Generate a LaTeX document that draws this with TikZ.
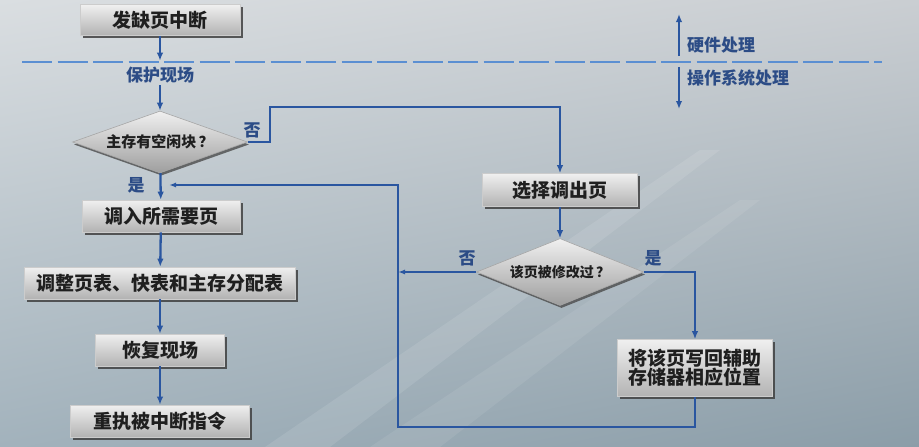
\documentclass[tikz,border=0pt]{standalone}
\usepackage{fontspec}
\setmainfont{Noto Sans CJK SC}
\usetikzlibrary{arrows.meta,shapes.geometric,shadows,shadings}

\definecolor{flowblue}{HTML}{2A56A0}
\definecolor{tagblue}{HTML}{2C4C86}
\definecolor{dashblue}{HTML}{5B8FD2}
\definecolor{bgUL}{HTML}{DADEE1}
\definecolor{bgUR}{HTML}{CACED2}
\definecolor{bgLL}{HTML}{A2B2BC}
\definecolor{bgLR}{HTML}{8B9DA8}

\tikzset{
  stepbox/.style={rectangle,draw=black!20,line width=0.6pt,top color=black!6,bottom color=black!30,
    minimum height=32pt,inner sep=3pt,text=black!88,font=\bfseries\fontsize{19}{19}\selectfont,
    drop shadow={shadow xshift=2.5pt,shadow yshift=-2.5pt,opacity=0.85,fill=black!75}},
  askbox/.style={diamond,draw=black!35,line width=0.6pt,top color=black!6,bottom color=black!38,
    inner sep=0pt,text=black!88,
    drop shadow={shadow xshift=1.5pt,shadow yshift=-2.5pt,opacity=0.8,fill=black!70}},
  flow/.style={draw=flowblue,line width=2.3pt,-{Latex[length=8pt,width=6.5pt]}},
  tag/.style={text=tagblue,inner sep=2pt,font=\bfseries\fontsize{17}{17}\selectfont},
  dashline/.style={draw=dashblue,line width=2.4pt,dash pattern=on 30pt off 5.5pt},
}

\begin{document}
\begin{tikzpicture}[x=1pt,y=-1pt]

    % background
    \useasboundingbox (0,0) rectangle (919,447);
    \shade[upper left=bgUL,upper right=bgUR,lower left=bgLL,lower right=bgLR] (0,0) rectangle (919,447);
    \fill[white,opacity=0.1] (265,447) -- (330,447) -- (720,150) -- (700,150) -- cycle;
    \fill[white,opacity=0.08] (370,447) -- (440,447) -- (760,200) -- (740,200) -- cycle;

    % hardware / operating system border
    \coordinate (dashL) at (22,62);
    \coordinate (dashR) at (882,62);
    \draw[dashline] (dashL) -- (dashR);

    % hardware part
    \coordinate (hwlow) at (679,56);
    \coordinate (hwhigh) at (679,14);
    \draw[flow,line width=1.8pt] (hwlow) -- (hwhigh);
    \node[tag,anchor=west] (hw) at (685,45) {硬件处理};

    % operating system part
    \coordinate (oshigh) at (679,67);
    \coordinate (oslow) at (679,109);
    \draw[flow,line width=1.8pt] (oshigh) -- (oslow);
    \node[tag,anchor=west] (os) at (685,78) {操作系统处理};

    %%%%%%%%%%%%%%%%%%%%%%%%%%%%%%%%%%%%%%%%%%%%%%%%%%%%%%

    % page fault interrupt
    \node[stepbox,minimum width=160pt,minimum height=31pt] (fault) at (160,20) {发缺页中断};

    % save context
    \node[tag] (save) at (160,75) {保护现场};
    \draw[flow,shorten >=4pt] (fault) -- (save);

    % free frame in main memory?
    \node[askbox,aspect=2.8,minimum width=175pt,minimum height=62pt,font=\bfseries\fontsize{15}{15}\selectfont] (free) at (160,142) {主存有空闲块\,？};
    \draw[flow] (save) -- (free);
    \node[tag] (yes1) at (136,185) {是};
    \node[tag] (no1) at (252,130) {否};

    %%%%%%%%%%%%%%%%%%%%%%%%%%%%%%%%%%%%%%%%%%%%%%%%%%%%%%

    % load the page
    \node[stepbox,minimum width=158pt] (load) at (161,216) {调入所需要页};
    \draw[flow] (free) -- (load);

    % update tables
    \node[stepbox,minimum width=271pt] (adjust) at (160,283) {调整页表、快表和主存分配表};
    \draw[flow] (load) -- (adjust);

    % restore context
    \node[stepbox,minimum width=129pt] (restore) at (160,350) {恢复现场};
    \draw[flow] (adjust) -- (restore);

    % re-run instruction
    \node[stepbox,minimum width=179pt] (redo) at (160,421) {重执被中断指令};
    \draw[flow] (restore) -- (redo);

    %%%%%%%%%%%%%%%%%%%%%%%%%%%%%%%%%%%%%%%%%%%%%%%%%%%%%%

    % choose victim page
    \node[stepbox,minimum width=155pt,minimum height=33pt] (select) at (560,190) {选择调出页};
    \coordinate (noturn) at (270,107);
    \draw[flow] (free.east) -| (noturn) -| (select.north);

    % page modified?
    \node[askbox,aspect=2.5,minimum width=167pt,minimum height=67pt,font=\bfseries\fontsize{14}{14}\selectfont] (modified) at (560,272) {该页被修改过\,？};
    \draw[flow] (select) -- (modified);
    \node[tag] (no2) at (467,258) {否};
    \node[tag] (yes2) at (653,258) {是};

    % write back to secondary storage
    \node[stepbox,minimum width=155pt,minimum height=57pt,align=center] (writeback) at (695,368) {将该页写回辅助\\存储器相应位置};
    \draw[flow] (modified.east) -| (writeback.north);

    % back to loading
    \coordinate (loopcorner) at (398,427);
    \coordinate (loopjoin) at (398,272);
    \coordinate (backin) at (169,185);
    \draw[flow,line width=2pt,-{Latex[length=7pt,width=5pt]}] (modified.west) -- (loopjoin);
    \draw[flow,line width=2pt,-{Latex[length=7pt,width=5pt]}] (writeback.south) |- (loopcorner) |- (backin);

\end{tikzpicture}
\end{document}
